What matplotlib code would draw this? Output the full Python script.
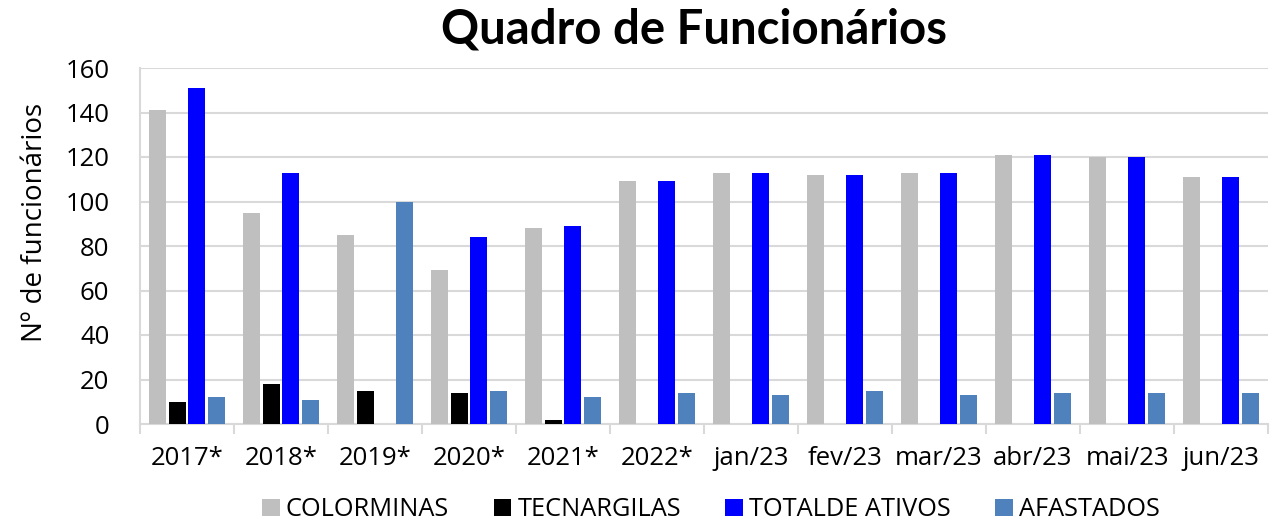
import matplotlib
matplotlib.use("Agg")
import matplotlib.pyplot as plt
import numpy as np

categories = ["2017*", "2018*", "2019*", "2020*", "2021*", "2022*",
              "jan/23", "fev/23", "mar/23", "abr/23", "mai/23", "jun/23"]
colorminas = [141, 95, 85, 69, 88, 109, 113, 112, 113, 121, 120, 111]
tecnargilas = [10, 18, 15, 14, 2, 0, 0, 0, 0, 0, 0, 0]
total_ativos = [151, 113, 0, 84, 89, 109, 113, 112, 113, 121, 120, 111]
afastados = [12, 11, 100, 15, 12, 14, 13, 15, 13, 14, 14, 14]

series = [
    ("COLORMINAS", colorminas, "#BFBFBF"),
    ("TECNARGILAS", tecnargilas, "#000000"),
    ("TOTALDE ATIVOS", total_ativos, "#0000FF"),
    ("AFASTADOS", afastados, "#4F81BD"),
]

FONT = "Open Sans"

fig = plt.figure(figsize=(12.82, 5.22), dpi=100)
ax = fig.add_axes([140/1282, 1-424/522, 1128/1282, 356/522])

x = np.arange(len(categories))
step = 0.211
width = 0.18
for i, (name, vals, col) in enumerate(series):
    ax.bar(x + (i - 1.5) * step, vals, width=width, color=col, label=name, zorder=3)

ax.set_xlim(-0.5, len(categories) - 0.5)
ax.set_ylim(0, 160)
ax.set_yticks(range(0, 161, 20))
ax.yaxis.grid(True, color="#D9D9D9", linewidth=1.5, zorder=0)
ax.set_axisbelow(True)
for s in ["top", "right"]:
    ax.spines[s].set_visible(False)
ax.spines["left"].set_color("#D9D9D9")
ax.spines["left"].set_linewidth(1.5)
ax.spines["bottom"].set_color("#D9D9D9")
ax.spines["bottom"].set_linewidth(1.5)
ax.set_xticks(x)
ax.set_xticklabels(categories, fontsize=18.5, family=FONT)
ax.set_xticks(np.arange(-0.5, len(categories), 1), minor=True)
ax.tick_params(axis="x", which="major", length=0, pad=16)
ax.tick_params(axis="x", which="minor", length=7, color="#D9D9D9", width=1.5)
ax.tick_params(axis="y", length=0, labelsize=18.5, pad=22)
for lab in ax.get_yticklabels():
    lab.set_family(FONT)

ax.set_ylabel("Nº de funcionários", fontsize=20, family=FONT, va="center")
ax.yaxis.set_label_coords(-105/1128, (424-222)/356)
fig.text(694/1282, 1-29/522, "Quadro de Funcionários", ha="center", va="center",
         fontsize=34, fontweight="bold", family="Lato")

fig.legend(loc="center", bbox_to_anchor=(711/1282, 1-510/522), ncol=4, frameon=False,
           prop={"family": FONT, "size": 18.3}, handlelength=0.68, handleheight=0.68,
           handletextpad=0.25, columnspacing=1.75, borderpad=0)

fig.savefig("out.png", dpi=100)
